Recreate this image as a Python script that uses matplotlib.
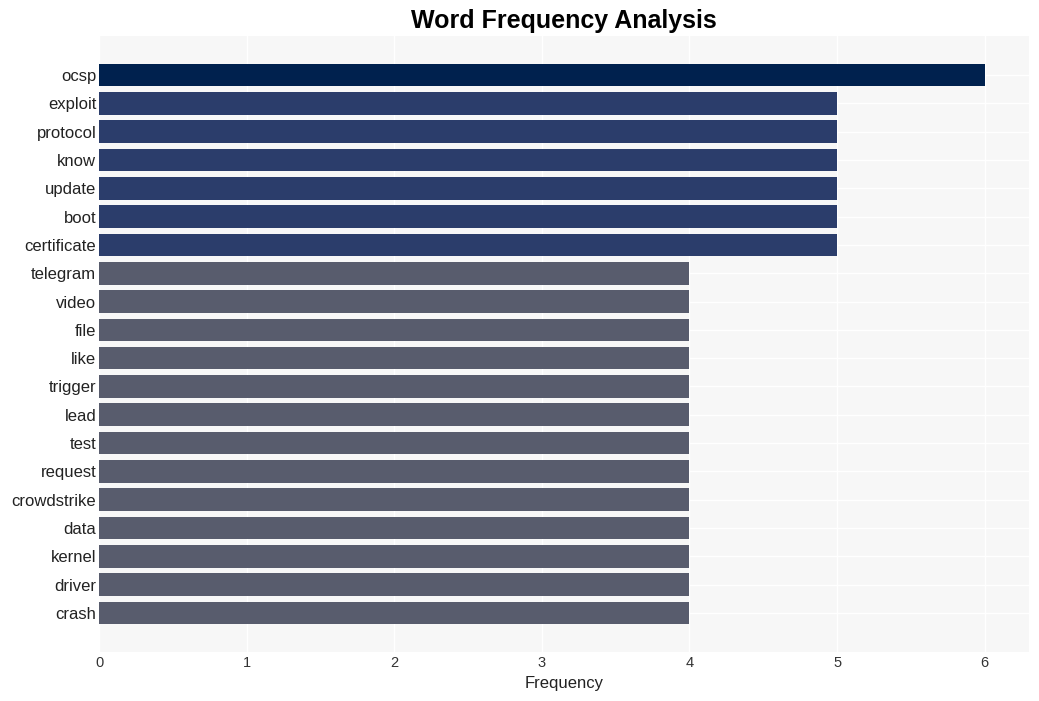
import matplotlib
matplotlib.use("Agg")
import matplotlib.pyplot as plt

# Word counts, top to bottom
words = ["ocsp", "exploit", "protocol", "know", "update", "boot", "certificate",
         "telegram", "video", "file", "like", "trigger", "lead", "test", "request",
         "crowdstrike", "data", "kernel", "driver", "crash"]
counts = [6, 5, 5, 5, 5, 5, 5, 4, 4, 4, 4, 4, 4, 4, 4, 4, 4, 4, 4, 4]

# Color per frequency level
level_colors = {6: "#00214e", 5: "#2b3d6b", 4: "#585c6d"}

plt.rcParams['font.family'] = ['Liberation Sans', 'DejaVu Sans']

fig, ax = plt.subplots(figsize=(10.39, 7.01), dpi=100)
fig.subplots_adjust(left=0.0953, right=0.9904, top=0.9486, bottom=0.07)

pos = list(range(len(words)))
ax.barh(pos, counts, height=0.8, color=[level_colors[c] for c in counts], zorder=3)

ax.set_yticks(pos)
ax.set_yticklabels(words, fontsize=12, color="#222222")
ax.set_ylim(len(words) - 1 + 1.38, -1.38)
ax.set_xlim(0, 6.3)
ax.set_xticks(range(7))
ax.tick_params(axis='x', labelsize=10.5, colors="#333333", length=0, pad=3)
ax.tick_params(axis='y', length=0, pad=2)

ax.set_facecolor("#f7f7f7")
ax.grid(True, color="white", linewidth=1.0, zorder=0)
ax.set_axisbelow(True)
for s in ax.spines.values():
    s.set_visible(False)

ax.set_xlabel("Frequency", fontsize=12, color="#222222", labelpad=4)
ax.set_title("Word Frequency Analysis", fontsize=18, fontweight='bold', pad=6)

fig.savefig("out.png", dpi=100)
